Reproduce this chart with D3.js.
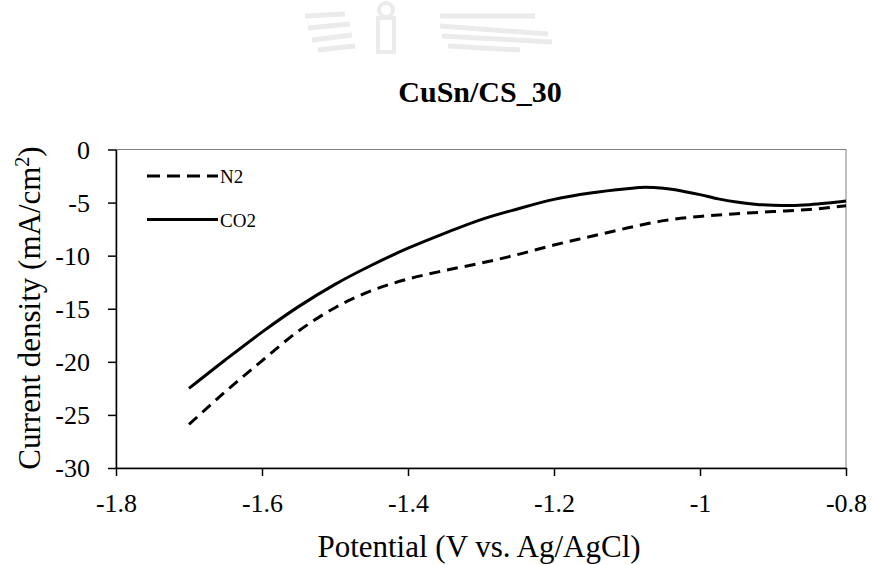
<!DOCTYPE html>
<html>
<head>
<meta charset="utf-8">
<script src="https://cdn.jsdelivr.net/npm/d3@7/dist/d3.min.js"></script>
</head>
<body style="margin:0;padding:0;background:#fff">
<div id="chart"></div>
<script>
// values
const potential_n2 = [-1.70, -1.65, -1.60, -1.55, -1.50, -1.45, -1.40, -1.35, -1.30, -1.25, -1.20, -1.15, -1.10, -1.05, -1.00, -0.95, -0.90, -0.85, -0.80]
const current_n2   = [-25.9, -22.8, -19.9, -17.1, -14.9, -13.3, -12.2, -11.4, -10.7, -9.9, -9.0, -8.2, -7.4, -6.7, -6.3, -6.05, -5.85, -5.65, -5.3]
const potential_co2 = [-1.70, -1.65, -1.60, -1.55, -1.50, -1.45, -1.40, -1.35, -1.30, -1.25, -1.20, -1.15, -1.10, -1.075, -1.05, -1.025, -1.00, -0.975, -0.95, -0.925, -0.90, -0.875, -0.85, -0.825, -0.80]
const current_co2   = [-22.5, -19.8, -17.2, -14.8, -12.7, -10.9, -9.3, -7.9, -6.6, -5.6, -4.7, -4.1, -3.7, -3.55, -3.65, -3.9, -4.25, -4.65, -4.95, -5.15, -5.25, -5.27, -5.2, -5.05, -4.85]
const x_ticks = [-1.8, -1.6, -1.4, -1.2, -1, -0.8]
const y_ticks = [0, -5, -10, -15, -20, -25, -30]
const series = [
  {name: 'N2', xs: potential_n2, ys: current_n2, dash: '11,7'},
  {name: 'CO2', xs: potential_co2, ys: current_co2, dash: null}
]

const W = 873, H = 565
const p_left = 116, p_right = 846, p_top = 149.5, p_bottom = 468
const font = "'Liberation Serif', 'Times New Roman', serif"

const svg = d3.select('#chart').append('svg').attr('width', W).attr('height', H)

// faint watermark at the top
const wm = svg.append('g').style('stroke', '#ebebeb').style('fill', 'none').style('stroke-width', 5)
;[[305,16,345,14],[308,28,350,24],[312,40,352,35],[318,50,355,46]].forEach(l => {
  wm.append('line').attr('x1', l[0]).attr('y1', l[1]).attr('x2', l[2]).attr('y2', l[3])
})
;[[440,16,535,16],[440,26,548,34],[442,36,552,42],[448,46,520,50]].forEach(l => {
  wm.append('line').attr('x1', l[0]).attr('y1', l[1]).attr('x2', l[2]).attr('y2', l[3])
})
wm.append('rect').attr('x', 378).attr('y', 18).attr('width', 16).attr('height', 34).style('stroke-width', 4)
wm.append('circle').attr('cx', 386).attr('cy', 10).attr('r', 7).style('stroke-width', 4)

const x = d3.scaleLinear().domain([-1.8, -0.8]).range([p_left, p_right])
const y = d3.scaleLinear().domain([-30, 0]).range([p_bottom, p_top])

// plot border
svg.append('rect').attr('x', p_left).attr('y', p_top).attr('width', p_right-p_left).attr('height', p_bottom-p_top)
  .style('fill', 'none').style('stroke', '#808080').style('stroke-width', 1)

const xAxis = svg.append('g').attr('transform', 'translate(0,'+p_bottom+')')
  .call(d3.axisBottom(x).tickValues(x_ticks).tickSize(8).tickSizeOuter(0).tickFormat(d => d))
const yAxis = svg.append('g').attr('transform', 'translate('+p_left+',0)')
  .call(d3.axisLeft(y).tickValues(y_ticks).tickSize(8).tickSizeOuter(0).tickFormat(d => d))

;[xAxis, yAxis].forEach(a => {
  a.selectAll('path, line').style('stroke', 'black').style('stroke-width', 1.5)
  a.selectAll('text').style('font-family', font).style('font-size', '26px').style('fill', 'black')
})
xAxis.selectAll('text').attr('y', 44).attr('dy', 0)
yAxis.selectAll('text').attr('x', -26).attr('dy', '0.33em')

const line = d3.line().x(d => x(d[0])).y(d => y(d[1])).curve(d3.curveMonotoneX)

series.forEach(s => {
  svg.append('path')
    .datum(s.xs.map((v, i) => [v, s.ys[i]]))
    .attr('d', line)
    .style('fill', 'none')
    .style('stroke', 'black')
    .style('stroke-width', 3)
    .style('stroke-dasharray', s.dash)
})

// legend
series.forEach((s, i) => {
  const ly = 176 + i*43.5
  svg.append('line').attr('x1', 147).attr('x2', 218).attr('y1', ly).attr('y2', ly)
    .style('stroke', 'black').style('stroke-width', 3).style('stroke-dasharray', s.dash ? '13,7' : null)
  svg.append('text').text(s.name).attr('x', 220).attr('y', ly + 7)
    .style('font-family', font).style('font-size', '19px').style('fill', 'black')
})

// title
svg.append('text').text('CuSn/CS_30')
  .attr('x', 480).attr('y', 102).attr('text-anchor', 'middle')
  .style('font-family', font).style('font-size', '30px').style('font-weight', 'bold')

// axis titles
svg.append('text').text('Potential (V vs. Ag/AgCl)')
  .attr('x', 479).attr('y', 557).attr('text-anchor', 'middle')
  .style('font-family', font).style('font-size', '31px')

const yt = svg.append('text')
  .attr('transform', 'translate(40,308) rotate(-90)').attr('text-anchor', 'middle')
  .style('font-family', font).style('font-size', '31px')
yt.append('tspan').text('Current density (mA/cm')
yt.append('tspan').text('2').attr('dy', -11).style('font-size', '20px')
yt.append('tspan').text(')').attr('dy', 11)
</script>
</body>
</html>
